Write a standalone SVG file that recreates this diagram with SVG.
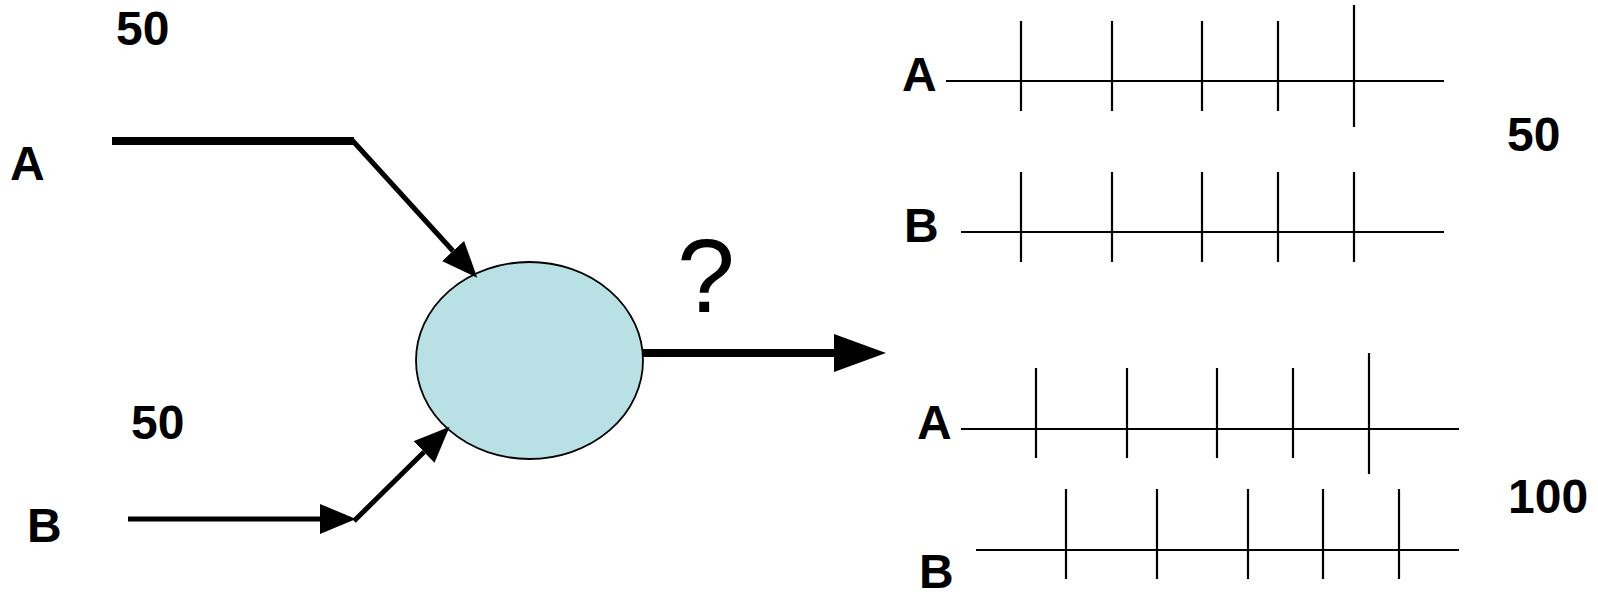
<svg xmlns="http://www.w3.org/2000/svg" width="1598" height="592" viewBox="0 0 1598 592">
<style>
.lbl{font-family:"Liberation Sans",Arial,sans-serif;font-weight:bold;font-size:48px;fill:#000}
.q{font-family:"Liberation Sans",Arial,sans-serif;font-size:104px;fill:#000}
.conn{stroke:#000;fill:none;stroke-linecap:butt}
.axis{stroke:#000;stroke-width:2.2;fill:none}
</style>
<defs>
<marker id="ah" markerUnits="userSpaceOnUse" markerWidth="40" markerHeight="34" refX="0" refY="15" orient="auto" viewBox="0 0 40 30">
<path d="M0,0 L36,15 L0,30 Z" fill="#000"/>
</marker>
<marker id="ahBig" markerUnits="userSpaceOnUse" markerWidth="54" markerHeight="40" refX="0" refY="19" orient="auto" viewBox="0 0 54 38">
<path d="M0,0 L52,19 L0,38 Z" fill="#000"/>
</marker>
</defs>
<g id="labels-left">
<text class="lbl" x="116" y="45">50</text>
<text class="lbl" x="10" y="180">A</text>
<text class="lbl" x="131" y="439">50</text>
<text class="lbl" x="27" y="542">B</text>
</g>
<g id="node-processor">
<ellipse cx="529.5" cy="360.5" rx="113.5" ry="98.5" fill="#b9e0e4" stroke="#000" stroke-width="1.8"/>
</g>
<g id="connectors">
<polyline class="conn" stroke-width="8" points="112,141 354,141"/>
<line class="conn" stroke-width="5" x1="352" y1="140" x2="453" y2="251" marker-end="url(#ah)"/>
<line class="conn" stroke-width="5" x1="128" y1="519" x2="320" y2="519" marker-end="url(#ah)"/>
<line class="conn" stroke-width="5" x1="354" y1="521" x2="424" y2="452" marker-end="url(#ah)"/>
<line class="conn" stroke-width="8" x1="643" y1="353" x2="834" y2="353" marker-end="url(#ahBig)"/>
</g>
<g id="label-question">
<text class="q" x="677" y="312">?</text>
</g>
<g id="timeline-top-A">
<text class="lbl" x="902" y="91">A</text>
<line class="axis" x1="946" y1="81" x2="1444" y2="81"/>
<line class="axis" x1="1021" y1="21" x2="1021" y2="111"/>
<line class="axis" x1="1112" y1="21" x2="1112" y2="111"/>
<line class="axis" x1="1202" y1="21" x2="1202" y2="111"/>
<line class="axis" x1="1278" y1="21" x2="1278" y2="111"/>
<line class="axis" x1="1354" y1="5" x2="1354" y2="127"/>
</g>
<g id="timeline-top-B">
<text class="lbl" x="904" y="242">B</text>
<line class="axis" x1="961" y1="232" x2="1444" y2="232"/>
<line class="axis" x1="1021" y1="172" x2="1021" y2="262"/>
<line class="axis" x1="1112" y1="172" x2="1112" y2="262"/>
<line class="axis" x1="1202" y1="172" x2="1202" y2="262"/>
<line class="axis" x1="1278" y1="172" x2="1278" y2="262"/>
<line class="axis" x1="1354" y1="172" x2="1354" y2="262"/>
</g>
<g id="label-50-right">
<text class="lbl" x="1507" y="151">50</text>
</g>
<g id="timeline-bottom-A">
<text class="lbl" x="917" y="439">A</text>
<line class="axis" x1="961" y1="429" x2="1459" y2="429"/>
<line class="axis" x1="1036" y1="368" x2="1036" y2="458"/>
<line class="axis" x1="1127" y1="368" x2="1127" y2="458"/>
<line class="axis" x1="1217" y1="368" x2="1217" y2="458"/>
<line class="axis" x1="1293" y1="368" x2="1293" y2="458"/>
<line class="axis" x1="1369" y1="353" x2="1369" y2="474"/>
</g>
<g id="timeline-bottom-B">
<text class="lbl" x="919" y="588">B</text>
<line class="axis" x1="976" y1="550" x2="1459" y2="550"/>
<line class="axis" x1="1066" y1="489" x2="1066" y2="579"/>
<line class="axis" x1="1157" y1="489" x2="1157" y2="579"/>
<line class="axis" x1="1248" y1="489" x2="1248" y2="579"/>
<line class="axis" x1="1323" y1="489" x2="1323" y2="579"/>
<line class="axis" x1="1399" y1="489" x2="1399" y2="579"/>
</g>
<g id="label-100">
<text class="lbl" x="1508" y="513">100</text>
</g>
</svg>
